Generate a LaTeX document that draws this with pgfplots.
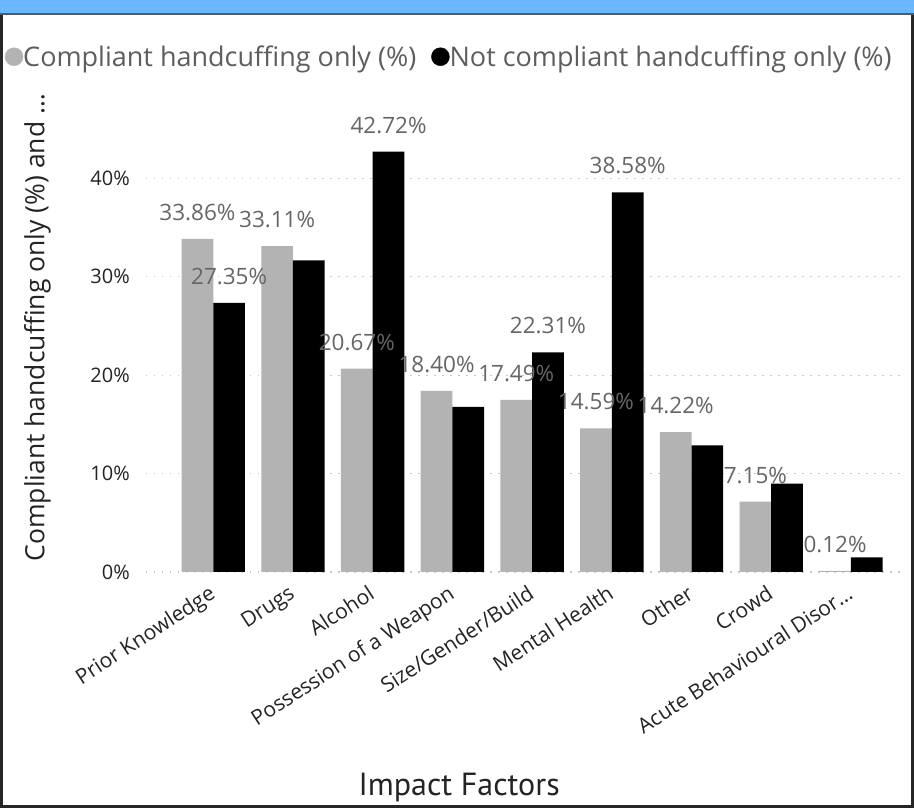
\documentclass[border=0pt]{standalone}
\usepackage{fontspec}
\setmainfont{Open Sans}
\newfontfamily\dinfont{PT Sans}
\usepackage{pgfplots}
\pgfplotsset{compat=1.18}
\definecolor{cgray}{HTML}{B3B3B3}
\definecolor{lbl}{HTML}{666666}
\definecolor{tickc}{HTML}{252423}
\definecolor{legc}{HTML}{605E5C}
\definecolor{hdr}{HTML}{6CB8FF}
\definecolor{gridc}{HTML}{C8C8C8}
\begin{document}
\begin{tikzpicture}[x=1pt,y=1pt]
\path[use as bounding box] (0,0) rectangle (914,808);
\fill[white] (0,0) rectangle (914,808);
\begin{axis}[
  at={(146pt,236pt)}, anchor=south west,
  scale only axis, width=760pt, height=472.3pt,
  xmin=-0.844, xmax=8.691, ymin=0, ymax=48,
  ybar, bar width=31.7pt,
  axis line style={draw=none}, major tick length=0pt,
  xtick={0,...,8},
  xticklabels={Prior Knowledge, Drugs, Alcohol, Possession of a Weapon, Size/Gender/Build, Mental Health, Other, Crowd, Acute Behavioural Disor\dots},
  xticklabel style={rotate=33, anchor=north east, font=\fontsize{21}{24}\selectfont, text=tickc, inner sep=0pt, xshift=-11pt, yshift=-7pt},
  ytick={0,10,20,30,40},
  yticklabel={\pgfmathprintnumber{\tick}\%},
  yticklabel style={font=\fontsize{20}{24}\selectfont, text=tickc, inner sep=0pt, xshift=-16pt},
  /pgf/number format/assume math mode=true,
  ymajorgrids, grid style={gridc, dash pattern=on 1.5pt off 6.5pt, line width=1.3pt},
  ylabel={Compliant handcuffing only (\%) and \dots},
  ylabel style={font=\fontsize{26.5}{30}\selectfont, text=tickc, at={(axis description cs:-0.143,0.517)}, anchor=center},
  xlabel={Impact Factors},
  xlabel style={font=\dinfont\fontsize{32}{36}\selectfont, text=tickc, at={(axis description cs:0.412,-0.456)}, anchor=center},
  legend columns=2,
  legend style={draw=none, fill=none, at={(axis description cs:-0.186,1.091)}, anchor=west,
    font=\fontsize{27}{31}\selectfont, text=legc, inner sep=0pt,
    /tikz/every even column/.append style={column sep=13pt},
    /tikz/every odd column/.append style={column sep=-2pt}},
  legend cell align=left,
]
\addlegendimage{legend image code/.code={\fill[cgray] (9pt,0pt) circle (9pt);}}
\addlegendentry{Compliant handcuffing only (\%)}
\addlegendimage{legend image code/.code={\fill[black] (9pt,0pt) circle (9pt);}}
\addlegendentry{Not compliant handcuffing only (\%)}
\addplot[fill=cgray, draw=none, bar shift=-15.85pt, forget plot] coordinates {
(0,33.86) (1,33.11) (2,20.67) (3,18.40) (4,17.49) (5,14.59) (6,14.22) (7,7.15) (8,0.12)};
\addplot[fill=black, draw=none, bar shift=15.85pt, forget plot] coordinates {
(0,27.35) (1,31.68) (2,42.72) (3,16.77) (4,22.31) (5,38.58) (6,12.88) (7,8.98) (8,1.49)};
\addplot[draw=none, fill=none, bar shift=-15.85pt, forget plot,
  nodes near coords={\pgfmathprintnumber[fixed, fixed zerofill, precision=2]{\pgfplotspointmeta}\%},
  point meta=y,
  every node near coord/.append style={font=\fontsize{22.5}{26}\selectfont, text=lbl, anchor=south, inner sep=0pt, yshift=18pt}]
  coordinates {
(0,33.86) (1,33.11) (2,20.67) (3,18.40) (4,17.49) (5,14.59) (6,14.22) (7,7.15) (8,0.12)};
\addplot[draw=none, fill=none, bar shift=15.85pt, forget plot,
  nodes near coords, point meta=explicit symbolic,
  every node near coord/.append style={font=\fontsize{22.5}{26}\selectfont, text=lbl, anchor=south, inner sep=0pt, yshift=18pt}]
  coordinates {
(0,27.35) [27.35\%] (2,42.72) [42.72\%] (4,22.31) [22.31\%] (5,38.58) [38.58\%]};
\end{axis}
\fill[hdr] (0,795) rectangle (914,808);
\fill[black!65] (0,792.5) rectangle (914,795);
\fill[black!85] (0,0) rectangle (3,792.5);
\fill[black!85] (911,0) rectangle (914,792.5);
\fill[black!85] (0,0) rectangle (914,3);
\end{tikzpicture}
\end{document}
